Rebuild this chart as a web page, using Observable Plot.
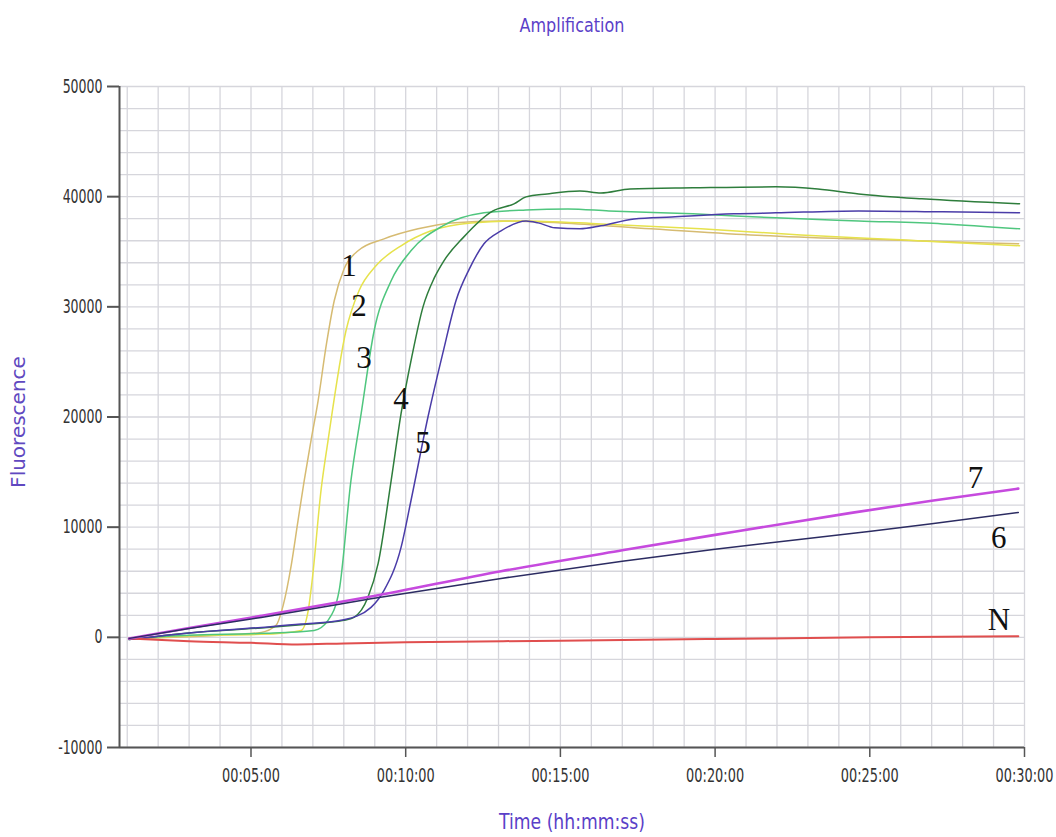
<!DOCTYPE html>
<html><head><meta charset="utf-8">
<script src="https://cdn.jsdelivr.net/npm/d3@7"></script>
<script src="https://cdn.jsdelivr.net/npm/@observablehq/plot@0.6"></script>
<style>body{margin:0;background:#fff}</style>
</head><body><div id="chart"></div>
<script>
// ---- data (time in minutes, fluorescence units) ----
const seriesNames = ["1","2","3","4","5","N","7","6"];

const t1 = [1.06, 2.5, 4.0, 5.33, 5.81, 6.04, 6.30, 6.52, 6.72, 6.94, 7.17, 7.43, 7.69, 8.01, 8.46, 9.30, 10.40, 11.47, 13.08, 15.02, 17.93, 21.15, 24.38, 27.61, 29.81];
const v1 = [-150, 0, 200, 450, 1090, 2900, 6530, 10600, 14230, 17860, 21490, 26470, 30550, 33450, 35090, 36170, 37080, 37620, 37800, 37620, 37080, 36530, 36170, 35900, 35720];

const t2 = [1.06, 3.0, 5.33, 6.62, 6.85, 6.97, 7.27, 7.49, 8.07, 8.49, 9.04, 9.85, 10.82, 12.11, 13.73, 16.31, 19.54, 22.77, 26.0, 29.84];
const v2 = [-100, 150, 270, 630, 2450, 5000, 13500, 17860, 27830, 31460, 33730, 35540, 36900, 37620, 37800, 37530, 37080, 36530, 36080, 35540];

const t3 = [1.06, 3.0, 5.33, 7.04, 7.49, 7.85, 8.23, 8.56, 8.98, 9.53, 10.17, 11.2, 12.53, 13.89, 15.24, 16.57, 19.28, 21.96, 24.64, 27.36, 29.84];
const v3 = [-100, 200, 360, 630, 1540, 4260, 14230, 20300, 27830, 32370, 35090, 37350, 38530, 38800, 38890, 38710, 38440, 38080, 37800, 37530, 37080];

const t4 = [1.06, 3.0, 5.33, 6.62, 8.0, 8.33, 8.78, 9.11, 9.53, 9.85, 10.2, 10.56, 10.92, 11.24, 11.85, 12.82, 13.5, 13.89, 14.57, 15.63, 16.31, 17.25, 19.28, 21.96, 23.32, 24.64, 26.68, 29.84];
const v4 = [-200, 400, 850, 1150, 1540, 1810, 3630, 6710, 14230, 20300, 25500, 30000, 32600, 34200, 36260, 38710, 39350, 39980, 40250, 40520, 40340, 40700, 40800, 40890, 40700, 40250, 39800, 39350];

const t5 = [1.06, 3.0, 5.33, 6.62, 8.0, 8.88, 9.3, 9.85, 10.17, 10.72, 11.2, 11.63, 12.05, 12.53, 13.08, 13.89, 14.28, 14.82, 15.63, 16.31, 17.38, 18.6, 20.61, 21.96, 24.64, 27.36, 29.84];
const v5 = [-200, 400, 900, 1200, 1600, 2720, 4260, 8160, 12400, 20000, 25800, 30600, 33400, 35720, 36900, 37800, 37620, 37170, 37080, 37350, 37980, 38160, 38440, 38530, 38710, 38620, 38530];

const t6 = [1.06, 3.0, 5.33, 8.88, 13.08, 17.0, 20.0, 24.4, 27.0, 29.8];
const v6 = [-100, 800, 1810, 3500, 5350, 6900, 8000, 9430, 10300, 11330];

const t7 = [1.06, 3.0, 5.33, 8.88, 13.08, 17.0, 20.0, 24.4, 27.0, 29.8];
const v7 = [-100, 850, 1950, 3700, 6000, 7900, 9300, 11300, 12400, 13500];

const tN = [1.06, 3.0, 5.0, 6.5, 8.0, 10.0, 15.0, 20.0, 25.0, 29.8];
const vN = [-100, -350, -500, -650, -550, -450, -300, -150, 0, 100];

const labelText = ["1", "2", "3", "4", "5", "7", "6", "N"];
const labelT    = [8.17, 8.49, 8.65, 9.85, 10.56, 28.42, 29.17, 29.17];
const labelV    = [33730, 30100, 25390, 21670, 17590, 14420, 8980, 1540];

const yTicks = [-10000, 0, 10000, 20000, 30000, 40000, 50000];
const xTicks = [5, 10, 15, 20, 25, 30];

// ---- build tables ----
const seriesData = {"1":[t1,v1],"2":[t2,v2],"3":[t3,v3],"4":[t4,v4],"5":[t5,v5],"6":[t6,v6],"7":[t7,v7],"N":[tN,vN]};
const rows = seriesNames.flatMap(s => seriesData[s][0].map((t, i) => ({series: s, t, v: seriesData[s][1][i]})));
const labels = labelText.map((label, i) => ({label, t: labelT[i], v: labelV[i]}));

const colorRange = ["#d6bb72", "#e6e24c", "#4fc67e", "#2e7d3c", "#4a3ca8", "#e04e4e", "#c64ade", "#2c2c62"];
const sans = "'DejaVu Sans', sans-serif";
const gridColor = "#d6d6dc";
const purple = "#5a40c8";

const chart = Plot.plot({
  width: 1056, height: 837,
  marginLeft: 119, marginRight: 32, marginTop: 86, marginBottom: 90,
  style: {background: "#fff", fontFamily: sans, fontSize: "19px", color: "#444", overflow: "visible"},
  x: {domain: [0.75, 30]},
  y: {domain: [-10000, 50000]},
  color: {domain: seriesNames, range: colorRange},
  marks: [
    Plot.ruleX(d3.range(1, 31), {y1: -10000, y2: 50000, stroke: gridColor, strokeWidth: 1.3}),
    Plot.ruleY(d3.range(-10000, 50001, 2000), {x1: 0.75, x2: 30, stroke: gridColor, strokeWidth: 1.3}),
    Plot.line(rows, {x: "t", y: "v", z: "series", stroke: "series", curve: "monotone-x",
      strokeWidth: d => d.series === "7" ? 2.6 : (d.series === "N" ? 2 : 1.5)}),
    Plot.ruleX([0.75], {y1: -10000, y2: 50000, stroke: "#555", strokeWidth: 2}),
    Plot.ruleY([-10000], {x1: 0.75, x2: 30, stroke: "#555", strokeWidth: 2}),
    Plot.axisY(yTicks, {anchor: "left", tickSize: 12, tickPadding: 5, stroke: "#555", strokeWidth: 2,
      tickFormat: d => String(d), label: null, fill: "#333", fontSize: 19, className: "ytl"}),
    Plot.axisX(xTicks, {anchor: "bottom", tickSize: 10, tickPadding: 11, stroke: "#555", strokeWidth: 1.5,
      tickFormat: m => `00:${String(m).padStart(2, "0")}:00`, label: null, fill: "#333", fontSize: 19, className: "xtl"}),
    Plot.text(labels, {x: "t", y: "v", text: "label", fontFamily: "'Liberation Serif', serif", fontSize: 31, fill: "#111"}),
    Plot.text(["Amplification"], {text: d => d, frameAnchor: "top", lineAnchor: "middle", dy: -61, fill: purple, fontSize: 20, className: "ttl"}),
    Plot.text(["Time (hh:mm:ss)"], {text: d => d, frameAnchor: "bottom", lineAnchor: "middle", dy: 75, fill: purple, fontSize: 21, className: "xlab"}),
    Plot.text(["Fluorescence"], {text: d => d, frameAnchor: "left", textAnchor: "middle", lineAnchor: "middle", dx: -101, dy: 5, rotate: -90, fill: "#6048c0", fontSize: 20, letterSpacing: 2})
  ]
});
document.getElementById("chart").appendChild(chart);

// condensed look of the original software's narrow font: horizontal scale about each text's anchor
function condense(selector, f) {
  chart.querySelectorAll(selector).forEach(t => {
    const tr = t.getAttribute("transform") || "";
    const x = t.getAttribute("x");
    if (x !== null) t.setAttribute("x", (+x / f).toFixed(2));
    t.setAttribute("transform", `${tr} scale(${f},1)`.trim());
  });
}
condense(".ytl text", 0.66);
condense(".xtl text", 0.68);
condense(".ttl text", 0.8);
condense(".xlab text", 0.82);
</script>
</body></html>
